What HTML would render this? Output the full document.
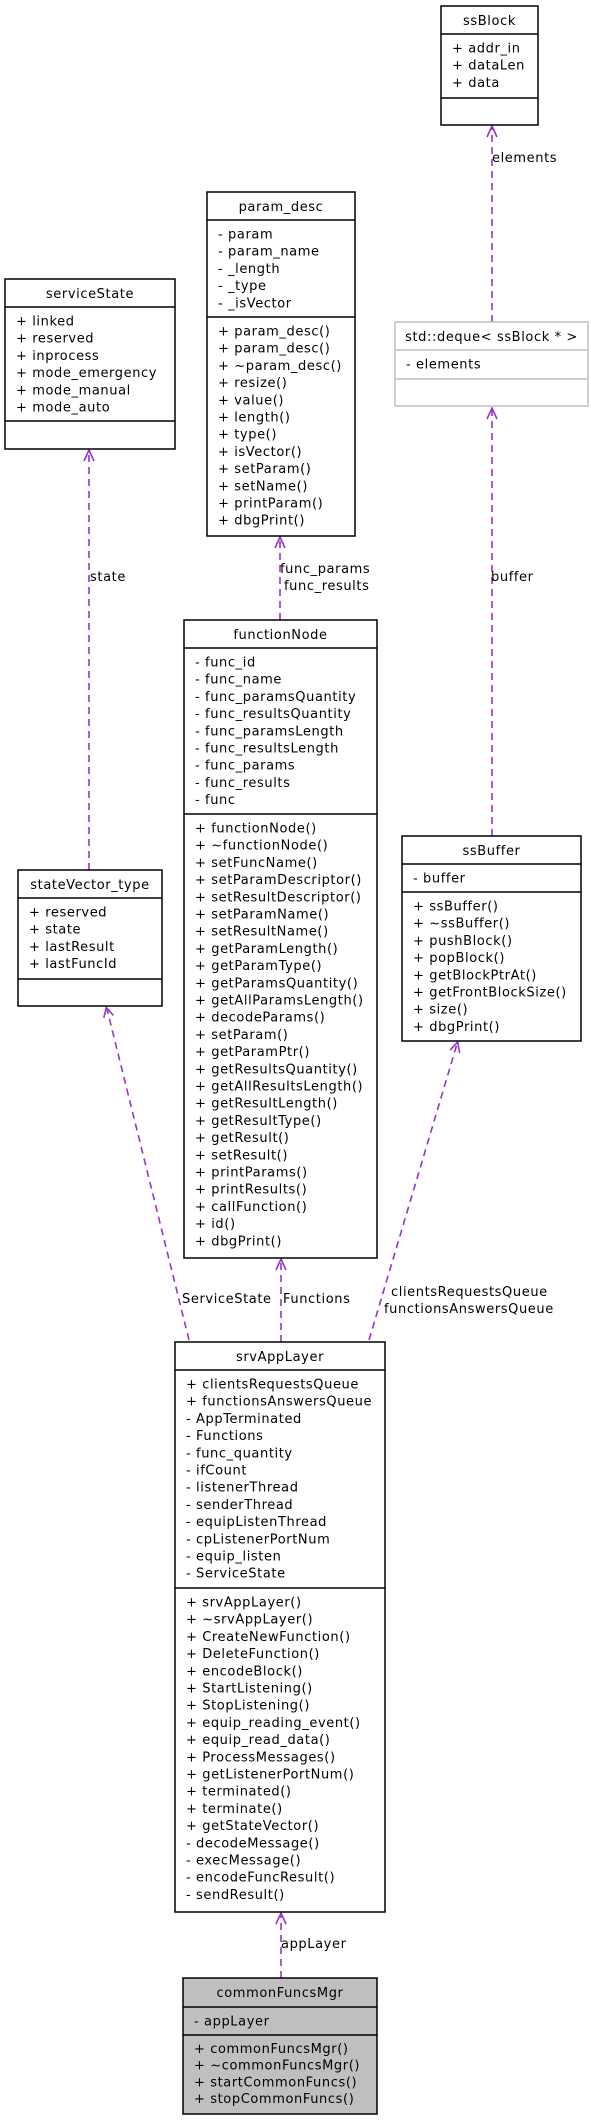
<!DOCTYPE html>
<html><head><meta charset="utf-8"><style>
html,body{margin:0;padding:0;background:#fff;}
svg{display:block;}
text{font-family:"DejaVu Sans","Liberation Sans",sans-serif;font-size:13px;letter-spacing:0.6px;fill:#000;}
.c{text-anchor:middle;}
.b{fill:#fff;stroke:#000;stroke-width:1.5;}
.g{fill:#bfbfbf;stroke:#000;stroke-width:1.5;}
.gb{fill:#fff;stroke:#bfbfbf;stroke-width:1.5;}
.l{stroke:#000;stroke-width:1.5;}
.lg{stroke:#bfbfbf;stroke-width:1.5;}
.e{stroke:#9a32cd;stroke-width:1.6;stroke-dasharray:7,5;fill:none;}
.h{stroke:#9a32cd;stroke-width:1.6;fill:none;}
</style></head><body>
<svg width="591" height="2120" viewBox="0 0 591 2120" xmlns="http://www.w3.org/2000/svg">

<!-- edges -->
<line class="e" x1="492" y1="322" x2="492" y2="127"/>
<polyline class="h" points="487,137 492,126 497,137"/>
<text x="492" y="162">elements</text>

<line class="e" x1="89" y1="870" x2="89" y2="451"/>
<polyline class="h" points="84,461 89,450 94,461"/>
<text x="90" y="581">state</text>

<line class="e" x1="280" y1="620" x2="280" y2="538"/>
<polyline class="h" points="275,548 280,537 285,548"/>
<text x="280" y="573">func_params</text>
<text x="284" y="590">func_results</text>

<line class="e" x1="492" y1="836" x2="492" y2="409"/>
<polyline class="h" points="487,419 492,408 497,419"/>
<text x="491" y="581">buffer</text>

<line class="e" x1="189" y1="1340" x2="107" y2="1009"/>
<polyline class="h" points="113.5,1015.5 106.3,1007.5 103.8,1017.9"/>
<text x="182" y="1303">ServiceState</text>

<line class="e" x1="281" y1="1342" x2="281" y2="1260"/>
<polyline class="h" points="276,1270 281,1259 286,1270"/>
<text x="283" y="1303">Functions</text>

<line class="e" x1="369" y1="1340" x2="457" y2="1044"/>
<polyline class="h" points="459.7,1053 457.7,1042 450.1,1050.1"/>
<text x="391" y="1296">clientsRequestsQueue</text>
<text x="384" y="1313">functionsAnswersQueue</text>

<line class="e" x1="281" y1="1978" x2="281" y2="1914"/>
<polyline class="h" points="276,1924 281,1913 286,1924"/>
<text x="281" y="1948">appLayer</text>

<!-- ssBlock -->
<rect class="b" x="441" y="6" width="97" height="119"/>
<line class="l" x1="441" y1="34" x2="538" y2="34"/>
<line class="l" x1="441" y1="98" x2="538" y2="98"/>
<text class="c" x="489.5" y="25">ssBlock</text>
<text x="452" y="52.5">+ addr_in</text>
<text x="452" y="69.7">+ dataLen</text>
<text x="452" y="86.9">+ data</text>

<!-- param_desc -->
<rect class="b" x="207" y="192" width="148" height="344"/>
<line class="l" x1="207" y1="220" x2="355" y2="220"/>
<line class="l" x1="207" y1="317" x2="355" y2="317"/>
<text class="c" x="281" y="211">param_desc</text>
<text x="218" y="238.5">- param</text>
<text x="218" y="255.7">- param_name</text>
<text x="218" y="272.9">- _length</text>
<text x="218" y="290.1">- _type</text>
<text x="218" y="307.3">- _isVector</text>
<text x="218" y="335.5">+ param_desc()</text>
<text x="218" y="352.7">+ param_desc()</text>
<text x="218" y="369.9">+ ~param_desc()</text>
<text x="218" y="387.1">+ resize()</text>
<text x="218" y="404.3">+ value()</text>
<text x="218" y="421.5">+ length()</text>
<text x="218" y="438.7">+ type()</text>
<text x="218" y="455.9">+ isVector()</text>
<text x="218" y="473.1">+ setParam()</text>
<text x="218" y="490.3">+ setName()</text>
<text x="218" y="507.5">+ printParam()</text>
<text x="218" y="524.7">+ dbgPrint()</text>

<!-- serviceState -->
<rect class="b" x="5" y="279" width="170" height="170"/>
<line class="l" x1="5" y1="307" x2="175" y2="307"/>
<line class="l" x1="5" y1="421" x2="175" y2="421"/>
<text class="c" x="90" y="298">serviceState</text>
<text x="16" y="325.5">+ linked</text>
<text x="16" y="342.7">+ reserved</text>
<text x="16" y="359.9">+ inprocess</text>
<text x="16" y="377.1">+ mode_emergency</text>
<text x="16" y="394.3">+ mode_manual</text>
<text x="16" y="411.5">+ mode_auto</text>

<!-- std::deque -->
<rect class="gb" x="395" y="322" width="193" height="84"/>
<line class="lg" x1="395" y1="350" x2="588" y2="350"/>
<line class="lg" x1="395" y1="379" x2="588" y2="379"/>
<text class="c" x="491.5" y="341">std::deque&lt; ssBlock * &gt;</text>
<text x="406" y="368.5">- elements</text>

<!-- functionNode -->
<rect class="b" x="184" y="620" width="193" height="638"/>
<line class="l" x1="184" y1="648" x2="377" y2="648"/>
<line class="l" x1="184" y1="814" x2="377" y2="814"/>
<text class="c" x="280.5" y="639">functionNode</text>
<text x="195" y="666.5">- func_id</text>
<text x="195" y="683.7">- func_name</text>
<text x="195" y="700.9">- func_paramsQuantity</text>
<text x="195" y="718.1">- func_resultsQuantity</text>
<text x="195" y="735.3">- func_paramsLength</text>
<text x="195" y="752.5">- func_resultsLength</text>
<text x="195" y="769.7">- func_params</text>
<text x="195" y="786.9">- func_results</text>
<text x="195" y="804.1">- func</text>
<text x="195" y="832.5">+ functionNode()</text>
<text x="195" y="849.7">+ ~functionNode()</text>
<text x="195" y="866.9">+ setFuncName()</text>
<text x="195" y="884.1">+ setParamDescriptor()</text>
<text x="195" y="901.3">+ setResultDescriptor()</text>
<text x="195" y="918.5">+ setParamName()</text>
<text x="195" y="935.7">+ setResultName()</text>
<text x="195" y="952.9">+ getParamLength()</text>
<text x="195" y="970.1">+ getParamType()</text>
<text x="195" y="987.3">+ getParamsQuantity()</text>
<text x="195" y="1004.5">+ getAllParamsLength()</text>
<text x="195" y="1021.7">+ decodeParams()</text>
<text x="195" y="1038.9">+ setParam()</text>
<text x="195" y="1056.1">+ getParamPtr()</text>
<text x="195" y="1073.3">+ getResultsQuantity()</text>
<text x="195" y="1090.5">+ getAllResultsLength()</text>
<text x="195" y="1107.7">+ getResultLength()</text>
<text x="195" y="1124.9">+ getResultType()</text>
<text x="195" y="1142.1">+ getResult()</text>
<text x="195" y="1159.3">+ setResult()</text>
<text x="195" y="1176.5">+ printParams()</text>
<text x="195" y="1193.7">+ printResults()</text>
<text x="195" y="1210.9">+ callFunction()</text>
<text x="195" y="1228.1">+ id()</text>
<text x="195" y="1245.3">+ dbgPrint()</text>

<!-- stateVector_type -->
<rect class="b" x="18" y="870" width="144" height="136"/>
<line class="l" x1="18" y1="898" x2="162" y2="898"/>
<line class="l" x1="18" y1="979" x2="162" y2="979"/>
<text class="c" x="90" y="889">stateVector_type</text>
<text x="29" y="916.5">+ reserved</text>
<text x="29" y="933.7">+ state</text>
<text x="29" y="950.9">+ lastResult</text>
<text x="29" y="968.1">+ lastFuncId</text>

<!-- ssBuffer -->
<rect class="b" x="402" y="836" width="179" height="205"/>
<line class="l" x1="402" y1="864" x2="581" y2="864"/>
<line class="l" x1="402" y1="892" x2="581" y2="892"/>
<text class="c" x="491.5" y="855">ssBuffer</text>
<text x="413" y="882.5">- buffer</text>
<text x="413" y="910.5">+ ssBuffer()</text>
<text x="413" y="927.7">+ ~ssBuffer()</text>
<text x="413" y="944.9">+ pushBlock()</text>
<text x="413" y="962.1">+ popBlock()</text>
<text x="413" y="979.3">+ getBlockPtrAt()</text>
<text x="413" y="996.5">+ getFrontBlockSize()</text>
<text x="413" y="1013.7">+ size()</text>
<text x="413" y="1030.9">+ dbgPrint()</text>

<!-- srvAppLayer -->
<rect class="b" x="175" y="1342" width="210" height="570"/>
<line class="l" x1="175" y1="1370" x2="385" y2="1370"/>
<line class="l" x1="175" y1="1588" x2="385" y2="1588"/>
<text class="c" x="280" y="1361">srvAppLayer</text>
<text x="186" y="1388.5">+ clientsRequestsQueue</text>
<text x="186" y="1405.7">+ functionsAnswersQueue</text>
<text x="186" y="1422.9">- AppTerminated</text>
<text x="186" y="1440.1">- Functions</text>
<text x="186" y="1457.3">- func_quantity</text>
<text x="186" y="1474.5">- ifCount</text>
<text x="186" y="1491.7">- listenerThread</text>
<text x="186" y="1508.9">- senderThread</text>
<text x="186" y="1526.1">- equipListenThread</text>
<text x="186" y="1543.3">- cpListenerPortNum</text>
<text x="186" y="1560.5">- equip_listen</text>
<text x="186" y="1577.7">- ServiceState</text>
<text x="186" y="1606.5">+ srvAppLayer()</text>
<text x="186" y="1623.7">+ ~srvAppLayer()</text>
<text x="186" y="1640.9">+ CreateNewFunction()</text>
<text x="186" y="1658.1">+ DeleteFunction()</text>
<text x="186" y="1675.3">+ encodeBlock()</text>
<text x="186" y="1692.5">+ StartListening()</text>
<text x="186" y="1709.7">+ StopListening()</text>
<text x="186" y="1726.9">+ equip_reading_event()</text>
<text x="186" y="1744.1">+ equip_read_data()</text>
<text x="186" y="1761.3">+ ProcessMessages()</text>
<text x="186" y="1778.5">+ getListenerPortNum()</text>
<text x="186" y="1795.7">+ terminated()</text>
<text x="186" y="1812.9">+ terminate()</text>
<text x="186" y="1830.1">+ getStateVector()</text>
<text x="186" y="1847.3">- decodeMessage()</text>
<text x="186" y="1864.5">- execMessage()</text>
<text x="186" y="1881.7">- encodeFuncResult()</text>
<text x="186" y="1898.9">- sendResult()</text>

<!-- commonFuncsMgr -->
<rect class="g" x="183" y="1978" width="194" height="136"/>
<line class="l" x1="183" y1="2007" x2="377" y2="2007"/>
<line class="l" x1="183" y1="2035" x2="377" y2="2035"/>
<text class="c" x="280" y="1997">commonFuncsMgr</text>
<text x="194" y="2025.5">- appLayer</text>
<text x="194" y="2053">+ commonFuncsMgr()</text>
<text x="194" y="2069.7">+ ~commonFuncsMgr()</text>
<text x="194" y="2086.4">+ startCommonFuncs()</text>
<text x="194" y="2103.1">+ stopCommonFuncs()</text>
</svg>
</body></html>
